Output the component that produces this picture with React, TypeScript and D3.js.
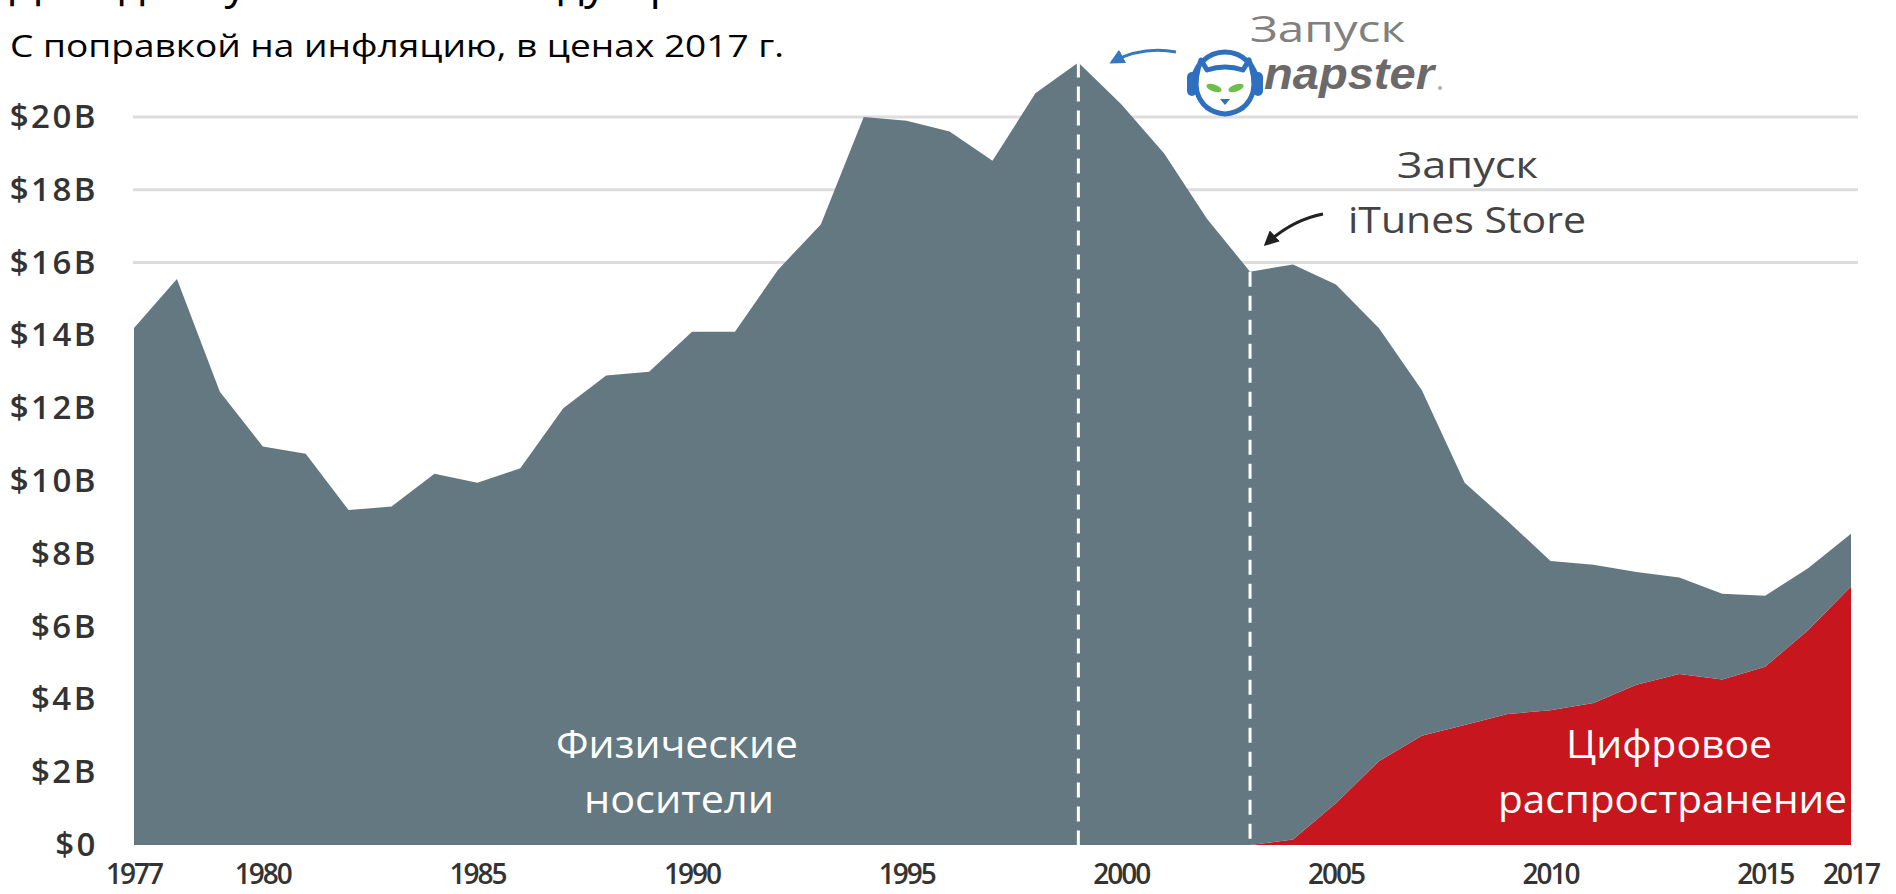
import * as d3 from 'd3';

const years = [
  1977, 1978, 1979, 1980, 1981, 1982, 1983, 1984, 1985, 1986,
  1987, 1988, 1989, 1990, 1991, 1992, 1993, 1994, 1995, 1996,
  1997, 1998, 1999, 2000, 2001, 2002, 2003, 2004, 2005, 2006,
  2007, 2008, 2009, 2010, 2011, 2012, 2013, 2014, 2015, 2016, 2017,
];
// physical media, $B (2017 dollars)
const physical = [
  14.2, 15.55, 12.45, 10.95, 10.75, 9.2, 9.3, 10.2, 9.95, 10.35,
  12.0, 12.9, 13.0, 14.1, 14.1, 15.8, 17.05, 20.0, 19.9, 19.6,
  18.8, 20.65, 21.5, 20.35, 19.0, 17.2, 15.75, 15.8, 14.25, 11.9,
  9.5, 6.65, 5.3, 4.1, 3.8, 3.1, 2.65, 2.35, 1.95, 1.7, 1.45,
];
// digital, $B
const digital = [
  0, 0, 0, 0, 0, 0, 0, 0, 0, 0,
  0, 0, 0, 0, 0, 0, 0, 0, 0, 0,
  0, 0, 0, 0, 0, 0, 0, 0.15, 1.15, 2.3,
  3.0, 3.3, 3.6, 3.7, 3.9, 4.4, 4.7, 4.55, 4.9, 5.9, 7.1,
];
const yTicks = [0, 2, 4, 6, 8, 10, 12, 14, 16, 18, 20];
const gridTicks = [16, 18, 20];
const xTicks = [1977, 1980, 1985, 1990, 1995, 2000, 2005, 2010, 2015, 2017];
const napsterYear = 1999;
const itunesYear = 2003;

const W = 1896;
const H = 894;
const FONT = "'Open Sans', 'Noto Sans', sans-serif";

export default function App() {
  const x = d3.scaleLinear().domain([1977, 2017]).range([134, 1851]);
  const y = d3.scaleLinear().domain([0, 20]).range([845, 117]);

  const rows = years.map((yr, i) => ({ year: yr, digital: digital[i], physical: physical[i] }));
  const series = d3.stack<any>().keys(['digital', 'physical'])(rows);
  const area = d3
    .area<any>()
    .x((d) => x(d.data.year))
    .y0((d) => y(d[0]))
    .y1((d) => y(d[1]));
  const colors: Record<string, string> = { digital: '#c8161e', physical: '#637880' };

  const total = (yr: number) => {
    const i = years.indexOf(yr);
    return physical[i] + digital[i];
  };

  return (
    <svg width={W} height={H} style={{ position: 'absolute', left: 0, top: 0, display: 'block' }}>
      <defs>
        <marker id="ahBlue" viewBox="0 0 10 10" refX="8" refY="5" markerWidth="5" markerHeight="5" orient="auto">
          <path d="M0,0 L10,5 L0,10 z" fill="#3478c2" />
        </marker>
        <marker id="ahDark" viewBox="0 0 10 10" refX="8" refY="5" markerWidth="5" markerHeight="5" orient="auto">
          <path d="M0,0 L10,5 L0,10 z" fill="#222" />
        </marker>
      </defs>

      {/* title (cut off at the top edge in the source) and subtitle */}
      <text x={10} y={-2} fontFamily={FONT} fontSize={44} textLength={840} lengthAdjust="spacingAndGlyphs" fill="#000">
        Доходы музыкальной индустрии США
      </text>
      <text x={10} y={57} fontFamily={FONT} fontSize={31} textLength={774} lengthAdjust="spacingAndGlyphs" fill="#000">
        С поправкой на инфляцию, в ценах 2017 г.
      </text>

      {gridTicks.map((t) => (
        <line key={t} x1={133} x2={1858} y1={y(t)} y2={y(t)} stroke="#dddddd" strokeWidth={3} />
      ))}

      {series.map((s) => (
        <path key={s.key} d={area(s) || ''} fill={colors[s.key]} />
      ))}

      {[napsterYear, itunesYear].map((yr) => (
        <line
          key={yr}
          x1={x(yr)}
          x2={x(yr)}
          y1={y(total(yr))}
          y2={y(0)}
          stroke="#fff"
          strokeWidth={3}
          strokeDasharray="15 9"
        />
      ))}

      {yTicks.map((t) => (
        <text
          key={t}
          x={98}
          y={y(t) + 11}
          textAnchor="end"
          fontFamily={FONT}
          fontWeight={600}
          fontSize={33}
          letterSpacing={2.5}
          fill="#333"
        >
          {'$' + t + (t === 0 ? '' : 'B')}
        </text>
      ))}

      {xTicks.map((t) => (
        <text
          key={t}
          x={x(t)}
          y={884}
          textAnchor="middle"
          fontFamily={FONT}
          fontWeight={600}
          fontSize={28}
          letterSpacing={-2}
          fill="#333"
        >
          {t}
        </text>
      ))}

      {/* area labels */}
      <g fontFamily={FONT} fontSize={38} fill="#fff">
        <text x={556} y={758} textLength={242} lengthAdjust="spacingAndGlyphs">Физические</text>
        <text x={584} y={813} textLength={190} lengthAdjust="spacingAndGlyphs">носители</text>
        <text x={1566} y={758} textLength={206} lengthAdjust="spacingAndGlyphs">Цифровое</text>
        <text x={1498} y={813} textLength={349} lengthAdjust="spacingAndGlyphs">распространение</text>
      </g>

      {/* napster annotation */}
      <text x={1250} y={42} fontFamily={FONT} fontSize={37} fill="#808080" textLength={155} lengthAdjust="spacingAndGlyphs">
        Запуск
      </text>
      <path d="M1176,52 Q1142,46 1112,62" fill="none" stroke="#3478c2" strokeWidth={3} markerEnd="url(#ahBlue)" />
      <g>
        <path d="M1193,84 A32,32 0 0 1 1257,84" fill="none" stroke="#2f6fc0" strokeWidth={5} />
        <path
          d="M1201,60 L1207,70 Q1225,64 1243,70 L1249,60 Q1256,78 1253,92 Q1247,112 1225,114 Q1203,112 1197,92 Q1194,78 1201,60 Z"
          fill="#fff"
          stroke="#2f6fc0"
          strokeWidth={5}
          strokeLinejoin="round"
        />
        <rect x={1187} y={72} width={10} height={24} rx={5} fill="#2f6fc0" />
        <rect x={1253} y={72} width={10} height={24} rx={5} fill="#2f6fc0" />
        <ellipse cx={1214} cy={88} rx={8} ry={3.5} fill="#6cc04a" transform="rotate(20 1214 88)" />
        <ellipse cx={1236} cy={88} rx={8} ry={3.5} fill="#6cc04a" transform="rotate(-20 1236 88)" />
        <path d="M1220,99 L1230,99 L1225,105 Z" fill="#2f6fc0" />
      </g>
      <text
        x={1264}
        y={89}
        fontFamily="'Liberation Sans', Arial, sans-serif"
        fontStyle="italic"
        fontWeight={700}
        fontSize={44}
        fill="#6b6969"
        textLength={170}
        lengthAdjust="spacingAndGlyphs"
      >
        napster
      </text>
      <circle cx={1440} cy={88} r={2} fill="#b0b0b0" />

      {/* iTunes annotation */}
      <text x={1397} y={178} fontFamily={FONT} fontSize={37} fill="#444" textLength={141} lengthAdjust="spacingAndGlyphs">
        Запуск
      </text>
      <text x={1348} y={233} fontFamily={FONT} fontSize={37} fill="#444" textLength={238} lengthAdjust="spacingAndGlyphs">
        iTunes Store
      </text>
      <path d="M1323,214 Q1292,220 1266,244" fill="none" stroke="#222" strokeWidth={3} markerEnd="url(#ahDark)" />
    </svg>
  );
}
